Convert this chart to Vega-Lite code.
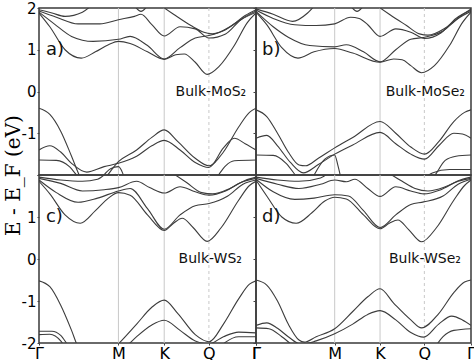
{
"$schema":"https://vega.github.io/schema/vega-lite/v6.json",
"padding":{"left":2,"top":0,"right":0,"bottom":0},
"config":{"view":{"stroke":"#3a3a3a","strokeWidth":1.5},"axis":{"labelFont":"DejaVu Sans","labelColor":"#000","tickColor":"#444"}},
"datasets":{
"sym":[{"k":0.366,"s":"solid"},{"k":0.577,"s":"solid"},{"k":0.783,"s":"dash"}],
"labels":[
{"p":"a","kind":"id","k":0.032,"E":1.0,"t":"a)"},{"p":"a","kind":"name","k":0.955,"E":0.0,"t":"Bulk-MoS₂"},
{"p":"b","kind":"id","k":0.028,"E":1.0,"t":"b)"},{"p":"b","kind":"name","k":0.972,"E":0.0,"t":"Bulk-MoSe₂"},
{"p":"c","kind":"id","k":0.032,"E":1.0,"t":"c)"},{"p":"c","kind":"name","k":0.935,"E":0.0,"t":"Bulk-WS₂"},
{"p":"d","kind":"id","k":0.028,"E":1.0,"t":"d)"},{"p":"d","kind":"name","k":0.953,"E":0.0,"t":"Bulk-WSe₂"}
],
"bands":[
{"p":"a","b":"c1","k":0,"E":1.88},{"p":"a","b":"c1","k":0.05,"E":1.55},{"p":"a","b":"c1","k":0.12,"E":1.0},{"p":"a","b":"c1","k":0.195,"E":0.8},{"p":"a","b":"c1","k":0.26,"E":0.95},{"p":"a","b":"c1","k":0.32,"E":1.12},{"p":"a","b":"c1","k":0.366,"E":1.2},{"p":"a","b":"c1","k":0.42,"E":1.15},{"p":"a","b":"c1","k":0.5,"E":0.95},{"p":"a","b":"c1","k":0.577,"E":0.77},{"p":"a","b":"c1","k":0.63,"E":0.88},{"p":"a","b":"c1","k":0.67,"E":0.9},{"p":"a","b":"c1","k":0.72,"E":0.7},{"p":"a","b":"c1","k":0.775,"E":0.41},{"p":"a","b":"c1","k":0.83,"E":0.6},{"p":"a","b":"c1","k":0.9,"E":1.1},{"p":"a","b":"c1","k":0.96,"E":1.65},{"p":"a","b":"c1","k":1,"E":1.88},
{"p":"a","b":"c2","k":0,"E":1.9},{"p":"a","b":"c2","k":0.07,"E":1.62},{"p":"a","b":"c2","k":0.15,"E":1.32},{"p":"a","b":"c2","k":0.25,"E":1.2},{"p":"a","b":"c2","k":0.366,"E":1.25},{"p":"a","b":"c2","k":0.42,"E":1.32},{"p":"a","b":"c2","k":0.5,"E":1.1},{"p":"a","b":"c2","k":0.577,"E":0.78},{"p":"a","b":"c2","k":0.65,"E":1.05},{"p":"a","b":"c2","k":0.72,"E":1.28},{"p":"a","b":"c2","k":0.783,"E":1.34},{"p":"a","b":"c2","k":0.86,"E":1.48},{"p":"a","b":"c2","k":0.93,"E":1.72},{"p":"a","b":"c2","k":1,"E":1.9},
{"p":"a","b":"c3","k":0,"E":1.93},{"p":"a","b":"c3","k":0.08,"E":1.78},{"p":"a","b":"c3","k":0.18,"E":1.62},{"p":"a","b":"c3","k":0.28,"E":1.62},{"p":"a","b":"c3","k":0.366,"E":1.72},{"p":"a","b":"c3","k":0.44,"E":1.8},{"p":"a","b":"c3","k":0.47,"E":1.85},{"p":"a","b":"c3","k":0.52,"E":1.6},{"p":"a","b":"c3","k":0.577,"E":1.33},{"p":"a","b":"c3","k":0.65,"E":1.55},{"p":"a","b":"c3","k":0.72,"E":1.5},{"p":"a","b":"c3","k":0.783,"E":1.28},{"p":"a","b":"c3","k":0.86,"E":1.38},{"p":"a","b":"c3","k":0.93,"E":1.72},{"p":"a","b":"c3","k":1,"E":1.93},
{"p":"a","b":"c4","k":0,"E":1.96},{"p":"a","b":"c4","k":0.06,"E":1.88},{"p":"a","b":"c4","k":0.12,"E":1.8},{"p":"a","b":"c4","k":0.2,"E":1.9},{"p":"a","b":"c4","k":0.25,"E":2.1},
{"p":"a","b":"c5","k":0.55,"E":2.1},{"p":"a","b":"c5","k":0.62,"E":1.85},{"p":"a","b":"c5","k":0.7,"E":1.58},{"p":"a","b":"c5","k":0.76,"E":1.42},{"p":"a","b":"c5","k":0.8,"E":1.38},{"p":"a","b":"c5","k":0.88,"E":1.55},{"p":"a","b":"c5","k":0.95,"E":1.82},{"p":"a","b":"c5","k":1,"E":1.96},
{"p":"a","b":"c6","k":0.44,"E":2.05},{"p":"a","b":"c6","k":0.47,"E":1.92},{"p":"a","b":"c6","k":0.5,"E":2.05},
{"p":"a","b":"v1","k":0,"E":-0.4},{"p":"a","b":"v1","k":0.05,"E":-0.55},{"p":"a","b":"v1","k":0.1,"E":-0.95},{"p":"a","b":"v1","k":0.15,"E":-1.55},{"p":"a","b":"v1","k":0.19,"E":-2.05},{"p":"a","b":"v1","k":0.25,"E":-2.35},{"p":"a","b":"v1","k":0.3,"E":-2.1},{"p":"a","b":"v1","k":0.366,"E":-1.68},{"p":"a","b":"v1","k":0.45,"E":-1.4},{"p":"a","b":"v1","k":0.52,"E":-1.1},{"p":"a","b":"v1","k":0.577,"E":-0.92},{"p":"a","b":"v1","k":0.64,"E":-1.2},{"p":"a","b":"v1","k":0.72,"E":-1.6},{"p":"a","b":"v1","k":0.783,"E":-1.78},{"p":"a","b":"v1","k":0.85,"E":-1.45},{"p":"a","b":"v1","k":0.92,"E":-0.85},{"p":"a","b":"v1","k":0.97,"E":-0.5},{"p":"a","b":"v1","k":1,"E":-0.4},
{"p":"a","b":"v2","k":0,"E":-1.4},{"p":"a","b":"v2","k":0.05,"E":-1.3},{"p":"a","b":"v2","k":0.1,"E":-1.45},{"p":"a","b":"v2","k":0.15,"E":-1.72},{"p":"a","b":"v2","k":0.22,"E":-1.93},{"p":"a","b":"v2","k":0.3,"E":-1.8},{"p":"a","b":"v2","k":0.366,"E":-1.72},{"p":"a","b":"v2","k":0.45,"E":-1.55},{"p":"a","b":"v2","k":0.52,"E":-1.3},{"p":"a","b":"v2","k":0.577,"E":-1.17},{"p":"a","b":"v2","k":0.65,"E":-1.4},{"p":"a","b":"v2","k":0.72,"E":-1.7},{"p":"a","b":"v2","k":0.783,"E":-1.82},{"p":"a","b":"v2","k":0.85,"E":-1.35},{"p":"a","b":"v2","k":0.9,"E":-1.12},{"p":"a","b":"v2","k":0.95,"E":-1.25},{"p":"a","b":"v2","k":1,"E":-1.4},
{"p":"a","b":"v3","k":0,"E":-1.64},{"p":"a","b":"v3","k":0.08,"E":-1.65},{"p":"a","b":"v3","k":0.14,"E":-1.8},{"p":"a","b":"v3","k":0.18,"E":-2.05},{"p":"a","b":"v3","k":0.22,"E":-2.3},
{"p":"a","b":"v3r","k":0.78,"E":-2.3},{"p":"a","b":"v3r","k":0.82,"E":-2.05},{"p":"a","b":"v3r","k":0.86,"E":-1.78},{"p":"a","b":"v3r","k":0.9,"E":-1.66},{"p":"a","b":"v3r","k":1,"E":-1.64},
{"p":"a","b":"v4","k":0.27,"E":-2.2},{"p":"a","b":"v4","k":0.33,"E":-1.85},{"p":"a","b":"v4","k":0.366,"E":-1.8},{"p":"a","b":"v4","k":0.385,"E":-1.95},{"p":"a","b":"v4","k":0.4,"E":-2.2},

{"p":"b","b":"c1","k":0,"E":1.9},{"p":"b","b":"c1","k":0.05,"E":1.6},{"p":"b","b":"c1","k":0.12,"E":1.05},{"p":"b","b":"c1","k":0.195,"E":0.8},{"p":"b","b":"c1","k":0.27,"E":0.95},{"p":"b","b":"c1","k":0.366,"E":1.03},{"p":"b","b":"c1","k":0.45,"E":0.92},{"p":"b","b":"c1","k":0.577,"E":0.7},{"p":"b","b":"c1","k":0.64,"E":0.78},{"p":"b","b":"c1","k":0.68,"E":0.76},{"p":"b","b":"c1","k":0.72,"E":0.62},{"p":"b","b":"c1","k":0.77,"E":0.45},{"p":"b","b":"c1","k":0.83,"E":0.62},{"p":"b","b":"c1","k":0.9,"E":1.1},{"p":"b","b":"c1","k":0.96,"E":1.65},{"p":"b","b":"c1","k":1,"E":1.9},
{"p":"b","b":"c2","k":0,"E":1.92},{"p":"b","b":"c2","k":0.08,"E":1.55},{"p":"b","b":"c2","k":0.15,"E":1.3},{"p":"b","b":"c2","k":0.25,"E":1.1},{"p":"b","b":"c2","k":0.366,"E":1.07},{"p":"b","b":"c2","k":0.42,"E":1.12},{"p":"b","b":"c2","k":0.5,"E":0.95},{"p":"b","b":"c2","k":0.577,"E":0.71},{"p":"b","b":"c2","k":0.65,"E":1.0},{"p":"b","b":"c2","k":0.72,"E":1.25},{"p":"b","b":"c2","k":0.784,"E":1.3},{"p":"b","b":"c2","k":0.87,"E":1.45},{"p":"b","b":"c2","k":0.94,"E":1.75},{"p":"b","b":"c2","k":1,"E":1.92},
{"p":"b","b":"c3","k":0,"E":1.95},{"p":"b","b":"c3","k":0.08,"E":1.75},{"p":"b","b":"c3","k":0.18,"E":1.6},{"p":"b","b":"c3","k":0.28,"E":1.58},{"p":"b","b":"c3","k":0.366,"E":1.62},{"p":"b","b":"c3","k":0.44,"E":1.78},{"p":"b","b":"c3","k":0.48,"E":1.75},{"p":"b","b":"c3","k":0.52,"E":1.6},{"p":"b","b":"c3","k":0.577,"E":1.32},{"p":"b","b":"c3","k":0.65,"E":1.5},{"p":"b","b":"c3","k":0.72,"E":1.42},{"p":"b","b":"c3","k":0.784,"E":1.27},{"p":"b","b":"c3","k":0.86,"E":1.4},{"p":"b","b":"c3","k":0.93,"E":1.75},{"p":"b","b":"c3","k":1,"E":1.95},
{"p":"b","b":"c4","k":0,"E":1.98},{"p":"b","b":"c4","k":0.08,"E":1.85},{"p":"b","b":"c4","k":0.17,"E":1.68},{"p":"b","b":"c4","k":0.24,"E":1.88},{"p":"b","b":"c4","k":0.28,"E":2.1},
{"p":"b","b":"c5","k":0.55,"E":2.1},{"p":"b","b":"c5","k":0.62,"E":1.85},{"p":"b","b":"c5","k":0.7,"E":1.58},{"p":"b","b":"c5","k":0.76,"E":1.38},{"p":"b","b":"c5","k":0.8,"E":1.35},{"p":"b","b":"c5","k":0.88,"E":1.52},{"p":"b","b":"c5","k":0.95,"E":1.8},{"p":"b","b":"c5","k":1,"E":1.98},
{"p":"b","b":"c6","k":0.44,"E":2.05},{"p":"b","b":"c6","k":0.47,"E":1.92},{"p":"b","b":"c6","k":0.5,"E":2.05},
{"p":"b","b":"v1","k":0,"E":-0.44},{"p":"b","b":"v1","k":0.05,"E":-0.6},{"p":"b","b":"v1","k":0.1,"E":-1.0},{"p":"b","b":"v1","k":0.15,"E":-1.45},{"p":"b","b":"v1","k":0.2,"E":-1.76},{"p":"b","b":"v1","k":0.23,"E":-1.78},{"p":"b","b":"v1","k":0.29,"E":-1.6},{"p":"b","b":"v1","k":0.366,"E":-1.35},{"p":"b","b":"v1","k":0.45,"E":-1.1},{"p":"b","b":"v1","k":0.577,"E":-0.72},{"p":"b","b":"v1","k":0.65,"E":-1.0},{"p":"b","b":"v1","k":0.72,"E":-1.33},{"p":"b","b":"v1","k":0.784,"E":-1.5},{"p":"b","b":"v1","k":0.85,"E":-1.2},{"p":"b","b":"v1","k":0.92,"E":-0.72},{"p":"b","b":"v1","k":0.97,"E":-0.5},{"p":"b","b":"v1","k":1,"E":-0.44},
{"p":"b","b":"v2","k":0,"E":-1.12},{"p":"b","b":"v2","k":0.05,"E":-1.05},{"p":"b","b":"v2","k":0.1,"E":-1.3},{"p":"b","b":"v2","k":0.16,"E":-1.7},{"p":"b","b":"v2","k":0.22,"E":-1.95},{"p":"b","b":"v2","k":0.29,"E":-1.75},{"p":"b","b":"v2","k":0.366,"E":-1.5},{"p":"b","b":"v2","k":0.45,"E":-1.28},{"p":"b","b":"v2","k":0.577,"E":-0.98},{"p":"b","b":"v2","k":0.65,"E":-1.25},{"p":"b","b":"v2","k":0.72,"E":-1.5},{"p":"b","b":"v2","k":0.784,"E":-1.62},{"p":"b","b":"v2","k":0.85,"E":-1.3},{"p":"b","b":"v2","k":0.92,"E":-1.0},{"p":"b","b":"v2","k":0.96,"E":-1.02},{"p":"b","b":"v2","k":1,"E":-1.12},
{"p":"b","b":"v3","k":0,"E":-1.52},{"p":"b","b":"v3","k":0.08,"E":-1.53},{"p":"b","b":"v3","k":0.14,"E":-1.72},{"p":"b","b":"v3","k":0.19,"E":-2.05},{"p":"b","b":"v3","k":0.23,"E":-2.3},
{"p":"b","b":"v3r","k":0.8,"E":-2.3},{"p":"b","b":"v3r","k":0.84,"E":-1.95},{"p":"b","b":"v3r","k":0.88,"E":-1.65},{"p":"b","b":"v3r","k":0.93,"E":-1.55},{"p":"b","b":"v3r","k":1,"E":-1.52},
{"p":"b","b":"v4","k":0.26,"E":-2.1},{"p":"b","b":"v4","k":0.32,"E":-1.62},{"p":"b","b":"v4","k":0.366,"E":-1.52},{"p":"b","b":"v4","k":0.38,"E":-1.75},{"p":"b","b":"v4","k":0.4,"E":-2.2},
{"p":"b","b":"v5","k":0.76,"E":-2.2},{"p":"b","b":"v5","k":0.82,"E":-1.95},{"p":"b","b":"v5","k":0.9,"E":-1.87},{"p":"b","b":"v5","k":1,"E":-1.87},

{"p":"c","b":"c1","k":0,"E":1.85},{"p":"c","b":"c1","k":0.05,"E":1.55},{"p":"c","b":"c1","k":0.12,"E":1.05},{"p":"c","b":"c1","k":0.19,"E":0.85},{"p":"c","b":"c1","k":0.26,"E":1.15},{"p":"c","b":"c1","k":0.32,"E":1.45},{"p":"c","b":"c1","k":0.366,"E":1.58},{"p":"c","b":"c1","k":0.42,"E":1.52},{"p":"c","b":"c1","k":0.5,"E":1.05},{"p":"c","b":"c1","k":0.577,"E":0.68},{"p":"c","b":"c1","k":0.62,"E":0.85},{"p":"c","b":"c1","k":0.66,"E":0.97},{"p":"c","b":"c1","k":0.71,"E":0.75},{"p":"c","b":"c1","k":0.775,"E":0.42},{"p":"c","b":"c1","k":0.84,"E":0.75},{"p":"c","b":"c1","k":0.92,"E":1.4},{"p":"c","b":"c1","k":0.97,"E":1.75},{"p":"c","b":"c1","k":1,"E":1.85},
{"p":"c","b":"c2","k":0,"E":1.88},{"p":"c","b":"c2","k":0.08,"E":1.58},{"p":"c","b":"c2","k":0.18,"E":1.35},{"p":"c","b":"c2","k":0.27,"E":1.45},{"p":"c","b":"c2","k":0.366,"E":1.62},{"p":"c","b":"c2","k":0.42,"E":1.68},{"p":"c","b":"c2","k":0.5,"E":1.2},{"p":"c","b":"c2","k":0.577,"E":0.71},{"p":"c","b":"c2","k":0.65,"E":1.05},{"p":"c","b":"c2","k":0.72,"E":1.27},{"p":"c","b":"c2","k":0.784,"E":1.32},{"p":"c","b":"c2","k":0.87,"E":1.5},{"p":"c","b":"c2","k":0.94,"E":1.78},{"p":"c","b":"c2","k":1,"E":1.88},
{"p":"c","b":"c3","k":0,"E":1.92},{"p":"c","b":"c3","k":0.1,"E":1.8},{"p":"c","b":"c3","k":0.2,"E":1.62},{"p":"c","b":"c3","k":0.3,"E":1.65},{"p":"c","b":"c3","k":0.366,"E":1.7},{"p":"c","b":"c3","k":0.45,"E":1.85},{"p":"c","b":"c3","k":0.51,"E":1.7},{"p":"c","b":"c3","k":0.577,"E":1.57},{"p":"c","b":"c3","k":0.65,"E":1.72},{"p":"c","b":"c3","k":0.72,"E":1.6},{"p":"c","b":"c3","k":0.784,"E":1.52},{"p":"c","b":"c3","k":0.86,"E":1.62},{"p":"c","b":"c3","k":0.93,"E":1.82},{"p":"c","b":"c3","k":1,"E":1.92},
{"p":"c","b":"c4","k":0,"E":1.95},{"p":"c","b":"c4","k":0.1,"E":1.88},{"p":"c","b":"c4","k":0.2,"E":1.85},{"p":"c","b":"c4","k":0.27,"E":1.9},{"p":"c","b":"c4","k":0.32,"E":2.1},
{"p":"c","b":"c5","k":0.6,"E":2.1},{"p":"c","b":"c5","k":0.68,"E":1.82},{"p":"c","b":"c5","k":0.75,"E":1.58},{"p":"c","b":"c5","k":0.8,"E":1.55},{"p":"c","b":"c5","k":0.88,"E":1.68},{"p":"c","b":"c5","k":0.95,"E":1.87},{"p":"c","b":"c5","k":1,"E":1.95},
{"p":"c","b":"v1","k":0,"E":-0.52},{"p":"c","b":"v1","k":0.05,"E":-0.66},{"p":"c","b":"v1","k":0.1,"E":-1.1},{"p":"c","b":"v1","k":0.15,"E":-1.7},{"p":"c","b":"v1","k":0.18,"E":-2.1},{"p":"c","b":"v1","k":0.26,"E":-2.5},{"p":"c","b":"v1","k":0.33,"E":-2.2},{"p":"c","b":"v1","k":0.366,"E":-2.02},{"p":"c","b":"v1","k":0.45,"E":-1.55},{"p":"c","b":"v1","k":0.52,"E":-1.15},{"p":"c","b":"v1","k":0.577,"E":-0.98},{"p":"c","b":"v1","k":0.64,"E":-1.3},{"p":"c","b":"v1","k":0.72,"E":-1.8},{"p":"c","b":"v1","k":0.784,"E":-1.97},{"p":"c","b":"v1","k":0.85,"E":-1.55},{"p":"c","b":"v1","k":0.92,"E":-0.95},{"p":"c","b":"v1","k":0.97,"E":-0.6},{"p":"c","b":"v1","k":1,"E":-0.52},
{"p":"c","b":"v2","k":0,"E":-1.72},{"p":"c","b":"v2","k":0.06,"E":-1.72},{"p":"c","b":"v2","k":0.1,"E":-1.82},{"p":"c","b":"v2","k":0.14,"E":-2.1},{"p":"c","b":"v2","k":0.2,"E":-2.4},
{"p":"c","b":"v2b","k":0.33,"E":-2.4},{"p":"c","b":"v2b","k":0.4,"E":-2.1},{"p":"c","b":"v2b","k":0.45,"E":-1.85},{"p":"c","b":"v2b","k":0.52,"E":-1.57},{"p":"c","b":"v2b","k":0.577,"E":-1.46},{"p":"c","b":"v2b","k":0.65,"E":-1.7},{"p":"c","b":"v2b","k":0.72,"E":-1.95},{"p":"c","b":"v2b","k":0.784,"E":-2.02},{"p":"c","b":"v2b","k":0.85,"E":-1.85},{"p":"c","b":"v2b","k":0.92,"E":-1.74},{"p":"c","b":"v2b","k":1,"E":-1.76},
{"p":"c","b":"v3","k":0,"E":-1.8},{"p":"c","b":"v3","k":0.05,"E":-1.79},{"p":"c","b":"v3","k":0.1,"E":-1.95},{"p":"c","b":"v3","k":0.12,"E":-2.1},
{"p":"c","b":"v3r","k":0.8,"E":-2.3},{"p":"c","b":"v3r","k":0.86,"E":-1.98},{"p":"c","b":"v3r","k":0.92,"E":-1.85},{"p":"c","b":"v3r","k":1,"E":-1.85},

{"p":"d","b":"c1","k":0,"E":1.88},{"p":"d","b":"c1","k":0.05,"E":1.5},{"p":"d","b":"c1","k":0.12,"E":1.0},{"p":"d","b":"c1","k":0.187,"E":0.85},{"p":"d","b":"c1","k":0.26,"E":1.1},{"p":"d","b":"c1","k":0.32,"E":1.38},{"p":"d","b":"c1","k":0.366,"E":1.47},{"p":"d","b":"c1","k":0.42,"E":1.43},{"p":"d","b":"c1","k":0.5,"E":1.05},{"p":"d","b":"c1","k":0.577,"E":0.72},{"p":"d","b":"c1","k":0.62,"E":0.85},{"p":"d","b":"c1","k":0.66,"E":0.93},{"p":"d","b":"c1","k":0.71,"E":0.7},{"p":"d","b":"c1","k":0.77,"E":0.41},{"p":"d","b":"c1","k":0.84,"E":0.75},{"p":"d","b":"c1","k":0.92,"E":1.4},{"p":"d","b":"c1","k":0.97,"E":1.75},{"p":"d","b":"c1","k":1,"E":1.88},
{"p":"d","b":"c2","k":0,"E":1.9},{"p":"d","b":"c2","k":0.08,"E":1.6},{"p":"d","b":"c2","k":0.18,"E":1.42},{"p":"d","b":"c2","k":0.27,"E":1.45},{"p":"d","b":"c2","k":0.366,"E":1.53},{"p":"d","b":"c2","k":0.43,"E":1.5},{"p":"d","b":"c2","k":0.5,"E":1.15},{"p":"d","b":"c2","k":0.577,"E":0.75},{"p":"d","b":"c2","k":0.65,"E":1.05},{"p":"d","b":"c2","k":0.72,"E":1.3},{"p":"d","b":"c2","k":0.78,"E":1.36},{"p":"d","b":"c2","k":0.87,"E":1.5},{"p":"d","b":"c2","k":0.94,"E":1.78},{"p":"d","b":"c2","k":1,"E":1.9},
{"p":"d","b":"c3","k":0,"E":1.92},{"p":"d","b":"c3","k":0.1,"E":1.78},{"p":"d","b":"c3","k":0.2,"E":1.68},{"p":"d","b":"c3","k":0.3,"E":1.78},{"p":"d","b":"c3","k":0.366,"E":1.88},{"p":"d","b":"c3","k":0.42,"E":1.84},{"p":"d","b":"c3","k":0.46,"E":1.9},{"p":"d","b":"c3","k":0.52,"E":1.68},{"p":"d","b":"c3","k":0.577,"E":1.49},{"p":"d","b":"c3","k":0.65,"E":1.72},{"p":"d","b":"c3","k":0.72,"E":1.62},{"p":"d","b":"c3","k":0.78,"E":1.55},{"p":"d","b":"c3","k":0.86,"E":1.65},{"p":"d","b":"c3","k":0.94,"E":1.85},{"p":"d","b":"c3","k":1,"E":1.92},
{"p":"d","b":"c4","k":0,"E":1.95},{"p":"d","b":"c4","k":0.1,"E":1.88},{"p":"d","b":"c4","k":0.2,"E":1.85},{"p":"d","b":"c4","k":0.3,"E":1.93},{"p":"d","b":"c4","k":0.35,"E":2.1},
{"p":"d","b":"c5","k":0.6,"E":2.1},{"p":"d","b":"c5","k":0.68,"E":1.85},{"p":"d","b":"c5","k":0.74,"E":1.68},{"p":"d","b":"c5","k":0.8,"E":1.62},{"p":"d","b":"c5","k":0.88,"E":1.72},{"p":"d","b":"c5","k":0.95,"E":1.88},{"p":"d","b":"c5","k":1,"E":1.95},
{"p":"d","b":"v1","k":0,"E":-0.5},{"p":"d","b":"v1","k":0.05,"E":-0.62},{"p":"d","b":"v1","k":0.1,"E":-1.0},{"p":"d","b":"v1","k":0.15,"E":-1.55},{"p":"d","b":"v1","k":0.2,"E":-1.93},{"p":"d","b":"v1","k":0.225,"E":-1.98},{"p":"d","b":"v1","k":0.28,"E":-1.85},{"p":"d","b":"v1","k":0.366,"E":-1.66},{"p":"d","b":"v1","k":0.45,"E":-1.25},{"p":"d","b":"v1","k":0.52,"E":-0.9},{"p":"d","b":"v1","k":0.577,"E":-0.71},{"p":"d","b":"v1","k":0.64,"E":-1.05},{"p":"d","b":"v1","k":0.72,"E":-1.45},{"p":"d","b":"v1","k":0.77,"E":-1.64},{"p":"d","b":"v1","k":0.85,"E":-1.3},{"p":"d","b":"v1","k":0.92,"E":-0.8},{"p":"d","b":"v1","k":0.97,"E":-0.55},{"p":"d","b":"v1","k":1,"E":-0.5},
{"p":"d","b":"v2","k":0,"E":-1.58},{"p":"d","b":"v2","k":0.05,"E":-1.52},{"p":"d","b":"v2","k":0.1,"E":-1.65},{"p":"d","b":"v2","k":0.15,"E":-1.85},{"p":"d","b":"v2","k":0.21,"E":-2.03},{"p":"d","b":"v2","k":0.28,"E":-1.95},{"p":"d","b":"v2","k":0.366,"E":-1.78},{"p":"d","b":"v2","k":0.45,"E":-1.55},{"p":"d","b":"v2","k":0.52,"E":-1.32},{"p":"d","b":"v2","k":0.577,"E":-1.23},{"p":"d","b":"v2","k":0.65,"E":-1.45},{"p":"d","b":"v2","k":0.72,"E":-1.75},{"p":"d","b":"v2","k":0.78,"E":-1.86},{"p":"d","b":"v2","k":0.85,"E":-1.55},{"p":"d","b":"v2","k":0.91,"E":-1.36},{"p":"d","b":"v2","k":0.96,"E":-1.45},{"p":"d","b":"v2","k":1,"E":-1.58},
{"p":"d","b":"v3","k":0,"E":-1.64},{"p":"d","b":"v3","k":0.06,"E":-1.66},{"p":"d","b":"v3","k":0.12,"E":-1.85},{"p":"d","b":"v3","k":0.17,"E":-2.05},{"p":"d","b":"v3","k":0.22,"E":-2.2},
{"p":"d","b":"v3r","k":0.82,"E":-2.2},{"p":"d","b":"v3r","k":0.87,"E":-1.85},{"p":"d","b":"v3r","k":0.92,"E":-1.7},{"p":"d","b":"v3r","k":1,"E":-1.66}
]
},
"columns":2,"spacing":0,"bounds":"flush",
"concat":[
{"width":217,"height":167,"layer":[
{"data":{"name":"sym"},"mark":{"type":"rule","color":"#c8c8c8","strokeWidth":1},"encoding":{"x":{"field":"k","type":"quantitative","scale":{"domain":[0,1],"nice":false,"zero":false},"axis":null},"strokeDash":{"field":"s","type":"nominal","scale":{"domain":["solid","dash"],"range":[[1,0],[3,3]]},"legend":null}}},
{"data":{"name":"bands"},"transform":[{"filter":"datum.p=='a'"}],"mark":{"type":"line","color":"#3c3c3c","strokeWidth":1.1,"interpolate":"monotone","clip":true},"encoding":{"x":{"field":"k","type":"quantitative"},"y":{"field":"E","type":"quantitative","scale":{"domain":[-2,2],"nice":false},"axis":{"values":[-2,-1.5,-1,-0.5,0,0.5,1,1.5,2],"labelExpr":"datum.value%1==0 && datum.value>-2 ? ''+datum.value : ''","title":"E - E_F (eV)","titleFont":"DejaVu Serif","titleFontSize":20,"titleFontWeight":"normal","titleColor":"#000","titleX":-26,"titleY":167,"titleBaseline":"middle","titleAlign":"center","titleAngle":-90,"domain":false,"grid":false,"tickSize":2,"labelFontSize":15,"labelPadding":1}},"detail":{"field":"b","type":"nominal"}}},
{"data":{"name":"labels"},"transform":[{"filter":"datum.p=='a' && datum.kind=='id'"}],"mark":{"type":"text","align":"left","baseline":"middle","fontSize":18,"font":"DejaVu Sans","color":"#111"},"encoding":{"x":{"field":"k","type":"quantitative"},"y":{"field":"E","type":"quantitative"},"text":{"field":"t"}}},
{"data":{"name":"labels"},"transform":[{"filter":"datum.p=='a' && datum.kind=='name'"}],"mark":{"type":"text","align":"right","baseline":"middle","fontSize":14,"font":"DejaVu Sans","color":"#111"},"encoding":{"x":{"field":"k","type":"quantitative"},"y":{"field":"E","type":"quantitative"},"text":{"field":"t"}}}
]},
{"width":215,"height":167,"layer":[
{"data":{"name":"sym"},"mark":{"type":"rule","color":"#c8c8c8","strokeWidth":1},"encoding":{"x":{"field":"k","type":"quantitative","scale":{"domain":[0,1],"nice":false,"zero":false},"axis":null},"strokeDash":{"field":"s","type":"nominal","scale":{"domain":["solid","dash"],"range":[[1,0],[3,3]]},"legend":null}}},
{"data":{"name":"bands"},"transform":[{"filter":"datum.p=='b'"}],"mark":{"type":"line","color":"#3c3c3c","strokeWidth":1.1,"interpolate":"monotone","clip":true},"encoding":{"x":{"field":"k","type":"quantitative"},"y":{"field":"E","type":"quantitative","scale":{"domain":[-2,2],"nice":false},"axis":{"values":[-2,-1.5,-1,-0.5,0,0.5,1,1.5,2],"labels":false,"title":null,"domain":false,"grid":false,"tickSize":3}},"detail":{"field":"b","type":"nominal"}}},
{"data":{"name":"labels"},"transform":[{"filter":"datum.p=='b' && datum.kind=='id'"}],"mark":{"type":"text","align":"left","baseline":"middle","fontSize":18,"font":"DejaVu Sans","color":"#111"},"encoding":{"x":{"field":"k","type":"quantitative"},"y":{"field":"E","type":"quantitative"},"text":{"field":"t"}}},
{"data":{"name":"labels"},"transform":[{"filter":"datum.p=='b' && datum.kind=='name'"}],"mark":{"type":"text","align":"right","baseline":"middle","fontSize":14,"font":"DejaVu Sans","color":"#111"},"encoding":{"x":{"field":"k","type":"quantitative"},"y":{"field":"E","type":"quantitative"},"text":{"field":"t"}}}
]},
{"width":217,"height":168,"layer":[
{"data":{"name":"sym"},"mark":{"type":"rule","color":"#c8c8c8","strokeWidth":1},"encoding":{"x":{"field":"k","type":"quantitative","scale":{"domain":[0,1],"nice":false,"zero":false},"axis":{"values":[0,0.366,0.577,0.783,1],"labelExpr":"datum.value==0||datum.value==1?'Γ':datum.value<0.4?'M':datum.value<0.6?'K':'Q'","title":null,"domain":false,"grid":false,"tickSize":2,"labelFlush":false,"labelOverlap":false,"labelFontSize":16,"labelPadding":0}},"strokeDash":{"field":"s","type":"nominal","scale":{"domain":["solid","dash"],"range":[[1,0],[3,3]]},"legend":null}}},
{"data":{"name":"bands"},"transform":[{"filter":"datum.p=='c'"}],"mark":{"type":"line","color":"#3c3c3c","strokeWidth":1.1,"interpolate":"monotone","clip":true},"encoding":{"x":{"field":"k","type":"quantitative"},"y":{"field":"E","type":"quantitative","scale":{"domain":[-2,2],"nice":false},"axis":{"values":[-2,-1.5,-1,-0.5,0,0.5,1,1.5,2],"labelExpr":"datum.value%1==0 && datum.value<2 ? ''+datum.value : ''","title":null,"domain":false,"grid":false,"tickSize":2,"labelFontSize":15,"labelPadding":1}},"detail":{"field":"b","type":"nominal"}}},
{"data":{"name":"labels"},"transform":[{"filter":"datum.p=='c' && datum.kind=='id'"}],"mark":{"type":"text","align":"left","baseline":"middle","fontSize":18,"font":"DejaVu Sans","color":"#111"},"encoding":{"x":{"field":"k","type":"quantitative"},"y":{"field":"E","type":"quantitative"},"text":{"field":"t"}}},
{"data":{"name":"labels"},"transform":[{"filter":"datum.p=='c' && datum.kind=='name'"}],"mark":{"type":"text","align":"right","baseline":"middle","fontSize":14,"font":"DejaVu Sans","color":"#111"},"encoding":{"x":{"field":"k","type":"quantitative"},"y":{"field":"E","type":"quantitative"},"text":{"field":"t"}}}
]},
{"width":215,"height":168,"layer":[
{"data":{"name":"sym"},"mark":{"type":"rule","color":"#c8c8c8","strokeWidth":1},"encoding":{"x":{"field":"k","type":"quantitative","scale":{"domain":[0,1],"nice":false,"zero":false},"axis":{"values":[0,0.366,0.577,0.783,1],"labelExpr":"datum.value==0||datum.value==1?'Γ':datum.value<0.4?'M':datum.value<0.6?'K':'Q'","title":null,"domain":false,"grid":false,"tickSize":2,"labelFlush":false,"labelOverlap":false,"labelFontSize":16,"labelPadding":0}},"strokeDash":{"field":"s","type":"nominal","scale":{"domain":["solid","dash"],"range":[[1,0],[3,3]]},"legend":null}}},
{"data":{"name":"bands"},"transform":[{"filter":"datum.p=='d'"}],"mark":{"type":"line","color":"#3c3c3c","strokeWidth":1.1,"interpolate":"monotone","clip":true},"encoding":{"x":{"field":"k","type":"quantitative"},"y":{"field":"E","type":"quantitative","scale":{"domain":[-2,2],"nice":false},"axis":{"values":[-2,-1.5,-1,-0.5,0,0.5,1,1.5,2],"labels":false,"title":null,"domain":false,"grid":false,"tickSize":3}},"detail":{"field":"b","type":"nominal"}}},
{"data":{"name":"labels"},"transform":[{"filter":"datum.p=='d' && datum.kind=='id'"}],"mark":{"type":"text","align":"left","baseline":"middle","fontSize":18,"font":"DejaVu Sans","color":"#111"},"encoding":{"x":{"field":"k","type":"quantitative"},"y":{"field":"E","type":"quantitative"},"text":{"field":"t"}}},
{"data":{"name":"labels"},"transform":[{"filter":"datum.p=='d' && datum.kind=='name'"}],"mark":{"type":"text","align":"right","baseline":"middle","fontSize":14,"font":"DejaVu Sans","color":"#111"},"encoding":{"x":{"field":"k","type":"quantitative"},"y":{"field":"E","type":"quantitative"},"text":{"field":"t"}}}
]}
]
}
